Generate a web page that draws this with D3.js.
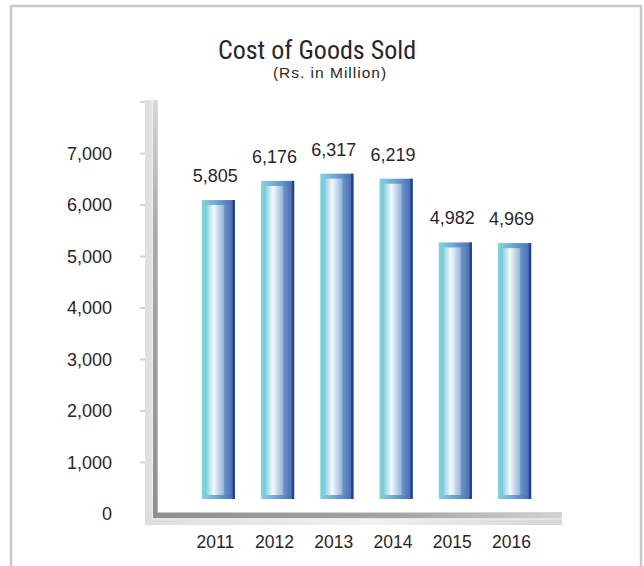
<!DOCTYPE html>
<html>
<head>
<meta charset="utf-8">
<script src="https://cdn.jsdelivr.net/npm/d3@7"></script>
<style>
  body { margin: 0; background: #fff; }
  svg { display: block; font-family: "Liberation Sans", Arial, sans-serif; }
  .title { font-family: "Liberation Sans Narrow", "Roboto Condensed", "Liberation Sans", sans-serif; }
</style>
</head>
<body>
<div id="chart"></div>
<script>
var years = ['2011', '2012', '2013', '2014', '2015', '2016']
var cogs = [5805, 6176, 6317, 6219, 4982, 4969]
var yTicks = [0, 1000, 2000, 3000, 4000, 5000, 6000, 7000, 8000]
var yLabels = ['0', '1,000', '2,000', '3,000', '4,000', '5,000', '6,000', '7,000', '']

var width = 644, height = 566
var depth = 15  // bars sit in front of the wall

var svg = d3.select('#chart').append('svg')
  .attr('width', width).attr('height', height)

var defs = svg.append('defs')

function grad(id, stops, vertical){
  var g = defs.append('linearGradient').attr('id', id)
    .attr('x1', 0).attr('y1', 0)
    .attr('x2', vertical ? 0 : 1).attr('y2', vertical ? 1 : 0)
  stops.forEach(function(s){
    g.append('stop').attr('offset', s[0]).attr('stop-color', s[1])
  })
}

grad('bar-outer', [[0, '#86d3df'], [0.45, '#6fa6d2'], [1, '#4467b0']])
grad('bar-inner', [[0, '#88d3e0'], [0.42, '#f4f9fc'], [1, '#93b3da']])
grad('bar-right', [[0, '#6f94c7'], [1, '#4a6db3']])
grad('wall-dark', [[0, '#d6d7d9'], [0.3, '#a9aaac'], [1, '#8e8f91']], true)
grad('floor-dark', [[0, '#8e8f91'], [0.6, '#a3a4a6'], [1, '#d2d3d5']])
grad('floor-light', [[0, '#dcdddf'], [0.55, '#f1f1f2'], [1, '#d4d5d7']])

// frame
svg.append('rect')
  .attr('x', 11).attr('y', 6).attr('width', 630).attr('height', 600)
  .attr('fill', 'none').attr('stroke', '#c9c9c9').attr('stroke-width', 2.5)

svg.append('text').attr('class', 'title')
  .attr('x', 317).attr('y', 59).attr('text-anchor', 'middle')
  .attr('font-size', 26).attr('fill', '#2a2627')
  .text('Cost of Goods Sold')

svg.append('text')
  .attr('x', 330).attr('y', 78).attr('text-anchor', 'middle')
  .attr('font-size', 15.5).attr('letter-spacing', 1).attr('fill', '#2a2627')
  .text('(Rs. in Million)')

var y = d3.scaleLinear().domain([0, 8000]).range([514, 102])

var x = d3.scaleBand().domain(years)
  .range([188.7, 544.2]).paddingInner(0.44).paddingOuter(0.22)

// wall + floor
var wall = svg.append('g')
wall.append('rect').attr('x', 145).attr('y', 100).attr('width', 13).attr('height', 425)
  .attr('fill', '#dfe0e2')
wall.append('rect').attr('x', 145).attr('y', 512).attr('width', 417).attr('height', 13)
  .attr('fill', 'url(#floor-light)')
wall.append('rect').attr('x', 153).attr('y', 101).attr('width', 4.5).attr('height', 417)
  .attr('fill', 'url(#wall-dark)')
wall.append('rect').attr('x', 153).attr('y', 512.7).attr('width', 409).attr('height', 5.6)
  .attr('fill', 'url(#floor-dark)')
wall.append('line').attr('x1', 152.2).attr('x2', 152.2).attr('y1', 100).attr('y2', 519)
  .attr('stroke', '#f4f4f4').attr('stroke-width', 1)
wall.append('line').attr('x1', 152).attr('x2', 562).attr('y1', 519).attr('y2', 519)
  .attr('stroke', '#f4f4f4').attr('stroke-width', 1)

wall.selectAll('line.tick').data(yTicks.slice(1)).enter().append('line')
  .attr('class', 'tick')
  .attr('x1', 140).attr('x2', 145)
  .attr('y1', function(d){ return y(d) }).attr('y2', function(d){ return y(d) })
  .attr('stroke', '#d3d4d6').attr('stroke-width', 2)

svg.selectAll('text.ylab').data(yTicks).enter().append('text')
  .attr('class', 'ylab')
  .attr('x', 112).attr('y', function(d){ return y(d) + 6 })
  .attr('text-anchor', 'end').attr('font-size', 18).attr('fill', '#2a2627')
  .text(function(d, i){ return yLabels[i] })

// bars
var bars = svg.selectAll('g.bar').data(years).enter().append('g').attr('class', 'bar')

bars.each(function(yr, i){
  var g = d3.select(this)
  var x0 = x(yr), bw = x.bandwidth()
  var top = y(cogs[i]) - depth, bot = y(0) - depth
  g.append('rect').attr('x', x0).attr('y', top).attr('width', bw).attr('height', bot - top)
    .attr('fill', 'url(#bar-outer)')
  g.append('rect').attr('x', x0 + bw * 0.67).attr('y', top + 5).attr('width', bw * 0.27).attr('height', bot - top - 9)
    .attr('fill', 'url(#bar-right)')
  g.append('rect').attr('x', x0 + bw * 0.14).attr('y', top + 5).attr('width', bw * 0.53).attr('height', bot - top - 9)
    .attr('fill', 'url(#bar-inner)')
  g.append('rect').attr('x', x0 + bw - 2.3).attr('y', top).attr('width', 2.3).attr('height', bot - top)
    .attr('fill', '#22418f')
  g.append('text')
    .attr('x', x0 + bw / 2 - 3).attr('y', top - 18)
    .attr('text-anchor', 'middle').attr('font-size', 18).attr('fill', '#2a2627')
    .text(d3.format(',')(cogs[i]))
})

svg.selectAll('text.xlab').data(years).enter().append('text')
  .attr('class', 'xlab')
  .attr('x', function(d){ return x(d) + x.bandwidth() / 2 - 3 }).attr('y', 548)
  .attr('text-anchor', 'middle').attr('font-size', 17.5).attr('fill', '#2a2627')
  .text(function(d){ return d })
</script>
</body>
</html>
